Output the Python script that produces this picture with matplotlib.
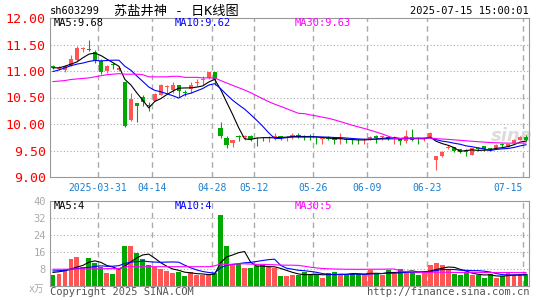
import numpy as np
import pandas as pd
import matplotlib
matplotlib.use("Agg")
import matplotlib.pyplot as plt

# trading calendar (Qingming, May Day and Dragon Boat holidays removed)
holidays = ["2025-04-04", "2025-05-01", "2025-05-02", "2025-05-05", "2025-06-02"]
dates = pd.bdate_range("2025-03-19", "2025-07-15", freq="C", holidays=holidays)

opens = [11.10, 11.04, 11.01, 11.10, 11.20, 11.41, 11.42, 11.36, 11.18, 11.00,
         11.12, 11.01, 10.79, 10.07, 10.39, 10.50, 10.36, 10.44, 10.55, 10.69,
         10.65, 10.74, 10.61, 10.66, 10.78, 10.83, 10.87, 10.99, 9.92, 9.74,
         9.64, 9.77, 9.76, 9.78, 9.74, 9.74, 9.74, 9.75, 9.76, 9.74,
         9.75, 9.79, 9.78, 9.77, 9.74, 9.72, 9.75, 9.73, 9.71, 9.71,
         9.70, 9.70, 9.69, 9.71, 9.78, 9.75, 9.76, 9.73, 9.71, 9.67,
         9.76, 9.74, 9.71, 9.74, 9.33, 9.39, 9.55, 9.56, 9.52, 9.49,
         9.42, 9.54, 9.58, 9.54, 9.55, 9.61, 9.57, 9.64, 9.70, 9.76]
highs = [11.12, 11.09, 11.12, 11.30, 11.47, 11.45, 11.59, 11.40, 11.23, 11.12,
         11.15, 11.09, 10.80, 10.58, 10.39, 10.54, 10.41, 10.59, 10.75, 10.74,
         10.80, 10.74, 10.64, 10.80, 10.84, 10.90, 10.99, 10.99, 10.03, 9.78,
         9.69, 9.80, 9.80, 9.80, 9.75, 9.76, 9.77, 9.83, 9.78, 9.78,
         9.83, 9.83, 9.79, 9.81, 9.75, 9.75, 9.78, 9.76, 9.83, 9.73,
         9.73, 9.71, 9.73, 9.78, 9.79, 9.78, 9.78, 9.78, 9.73, 9.89,
         9.90, 9.76, 9.75, 9.84, 9.40, 9.50, 9.60, 9.56, 9.53, 9.52,
         9.55, 9.56, 9.59, 9.55, 9.62, 9.65, 9.63, 9.71, 9.78, 9.79]
lows = [11.03, 11.01, 10.98, 11.09, 11.18, 11.36, 11.37, 11.15, 10.94, 10.97,
        11.04, 11.00, 9.94, 10.06, 10.03, 10.34, 10.24, 10.44, 10.54, 10.56,
        10.58, 10.51, 10.53, 10.58, 10.71, 10.74, 10.84, 10.74, 9.74, 9.55,
        9.57, 9.67, 9.70, 9.67, 9.58, 9.67, 9.66, 9.70, 9.70, 9.67,
        9.72, 9.73, 9.70, 9.70, 9.63, 9.63, 9.70, 9.63, 9.63, 9.65,
        9.63, 9.63, 9.63, 9.70, 9.65, 9.69, 9.69, 9.63, 9.60, 9.65,
        9.67, 9.63, 9.67, 9.73, 9.13, 9.38, 9.52, 9.47, 9.46, 9.39,
        9.41, 9.50, 9.50, 9.49, 9.54, 9.57, 9.56, 9.63, 9.69, 9.67]
closes = [11.05, 11.06, 11.10, 11.22, 11.43, 11.44, 11.40, 11.20, 10.99, 11.09,
          11.11, 11.06, 9.96, 10.47, 10.34, 10.41, 10.34, 10.57, 10.73, 10.72,
          10.74, 10.62, 10.59, 10.74, 10.79, 10.85, 10.99, 10.84, 9.78, 9.60,
          9.69, 9.75, 9.78, 9.72, 9.73, 9.73, 9.75, 9.77, 9.75, 9.76,
          9.79, 9.76, 9.76, 9.75, 9.73, 9.73, 9.72, 9.70, 9.73, 9.69,
          9.69, 9.69, 9.70, 9.76, 9.74, 9.76, 9.72, 9.74, 9.67, 9.78,
          9.70, 9.73, 9.72, 9.83, 9.39, 9.48, 9.57, 9.50, 9.48, 9.47,
          9.54, 9.52, 9.52, 9.52, 9.60, 9.60, 9.63, 9.70, 9.76, 9.70]
# volume, 10k lots
volumes = [4.9, 5.3, 7.7, 12.4, 13.3, 8.9, 12.9, 10.8, 8.9, 5.8,
           5.3, 7.8, 18.5, 18.5, 15.2, 12.4, 9.6, 8.9, 7.8, 6.9,
           5.8, 6.6, 4.4, 6.3, 5.0, 5.0, 5.0, 5.8, 33.3, 18.5,
           9.7, 10.4, 8.5, 8.2, 9.3, 9.7, 8.9, 8.2, 4.5, 4.5,
           5.0, 5.2, 6.3, 5.0, 5.3, 3.5, 5.8, 6.3, 5.6, 5.0,
           5.6, 5.3, 5.3, 7.4, 5.3, 5.0, 7.5, 5.6, 8.0, 6.9,
           6.6, 5.0, 6.0, 9.7, 10.5, 9.7, 7.8, 5.3, 5.0, 6.3,
           5.0, 5.0, 3.6, 5.6, 3.5, 4.4, 6.3, 5.0, 5.6, 5.6]

# moving-average values before enough history exists in this window
ma5_head = [11.06, 11.06, 11.09, 11.13]
ma10_head = [10.99, 11.02, 11.06, 11.10, 11.13, 11.15, 11.18, 11.20, 11.19]
ma30_head = [10.80, 10.81, 10.82, 10.84, 10.85, 10.86, 10.87, 10.89, 10.91, 10.93,
             10.94, 10.95, 10.94, 10.94, 10.94, 10.93, 10.89, 10.89, 10.89, 10.89,
             10.90, 10.90, 10.88, 10.88, 10.88, 10.87, 10.87, 10.87, 10.82]
vma5_head = [6.2, 6.5, 7.0, 7.8]
vma10_head = [6.9, 7.0, 7.2, 7.6, 8.0, 8.3, 8.6, 9.0, 9.3]
vma30_head = [7.7, 7.7, 7.7, 7.8, 7.8, 7.8, 7.9, 7.9, 7.9, 8.0,
              8.0, 8.0, 8.9, 8.9, 8.9, 8.9, 8.9, 8.9, 8.9, 8.9,
              8.9, 8.9, 8.9, 8.9, 8.9, 8.9, 8.9, 9.3, 10.2]

tick_dates = ["2025-03-31", "2025-04-14", "2025-04-28", "2025-05-12",
              "2025-05-26", "2025-06-09", "2025-06-23", "2025-07-15"]
price_ticks = [9.00, 9.50, 10.00, 10.50, 11.00, 11.50, 12.00]
vol_ticks = [8, 16, 24, 32, 40]

symbol = "sh603299"
title = "苏盐井神 - 日K线图"
stamp = "2025-07-15 15:00:01"
ma_labels = ["MA5:9.68", "MA10:9.62", "MA30:9.63"]
vma_labels = ["MA5:4", "MA10:4", "MA30:5"]

RED = "#ff5555"
GREEN = "#00a800"
MA_COLORS = ["#000000", "#0000ff", "#ff00ff"]
GRID = "#aaaaaa"
MONO = "DejaVu Sans Mono"
MIXED = ["DejaVu Sans Mono", "Noto Sans CJK SC"]


def moving_avg(values, head, n):
    s = pd.Series(values, dtype=float).rolling(n).mean()
    s.iloc[:len(head)] = head
    return s.to_numpy()


def style_axes(ax):
    for sp in ax.spines.values():
        sp.set_color("#999999")
        sp.set_linewidth(0.8)
    ax.tick_params(length=0)


W, H = 545, 300
fig = plt.figure(figsize=(W / 100, H / 100), dpi=100)
ax = fig.add_axes([50 / W, 1 - 177 / H, 479 / W, 159 / H])
axv = fig.add_axes([50 / W, 1 - 285.5 / H, 479 / W, 84.5 / H])

o, h, l, c = map(np.array, (opens, highs, lows, closes))
x = np.arange(len(c))
up = c >= o
colors = np.where(up, RED, GREEN)
tick_x = [dates.get_loc(pd.Timestamp(d)) - 0.5 for d in tick_dates]

# --- price panel ---
style_axes(ax)
for yv in price_ticks[1:-1]:
    ax.axhline(yv, color=GRID, lw=0.8, ls=(0, (1, 2)), zorder=0)
for tx in tick_x:
    ax.axvline(tx, color=GRID, lw=1.0, ls=(0, (4, 3)), zorder=0)

ax.vlines(x, l, h, colors=colors, lw=0.8, zorder=2)
body = np.maximum(np.abs(c - o), 0.015)
ax.bar(x, body, bottom=np.minimum(o, c), width=0.72, color=colors, lw=0, zorder=3)

for head, n, col in zip((ma5_head, ma10_head, ma30_head), (5, 10, 30), MA_COLORS):
    ax.plot(x, moving_avg(closes, head, n), color=col, lw=0.8, zorder=4)

ax.set_xlim(-0.5, len(c) - 0.5)
ax.set_ylim(9.0, 12.0)
ax.set_yticks(price_ticks)
ax.set_yticklabels([f"{v:.2f}" for v in price_ticks], family=MONO, fontsize=9.5, color="#ff0000")
ax.tick_params(axis="y", pad=3)
ax.set_xticks(tick_x)
date_labels = ax.set_xticklabels(
    [pd.Timestamp(d).strftime("%Y-%m-%d" if i == 0 else "%m-%d") for i, d in enumerate(tick_dates)],
    family=MONO, fontsize=7, color="#1a7fd0")
date_labels[-1].set_horizontalalignment("right")  # last label kept inside the frame
ax.tick_params(axis="x", pad=4)

ax.text(512, 164, "sina", transform=None, fontsize=13, style="italic", weight="bold",
        color="#dcdcdc", ha="center", va="center", zorder=1)

# --- volume panel ---
style_axes(axv)
for yv in vol_ticks[:-1]:
    axv.axhline(yv, color=GRID, lw=0.8, ls=(0, (1, 2)), zorder=0)
for tx in tick_x:
    axv.axvline(tx, color=GRID, lw=1.0, ls=(0, (4, 3)), zorder=0)
axv.bar(x, volumes, width=0.82, color=colors, lw=0, zorder=2)
for head, n, col in zip((vma5_head, vma10_head, vma30_head), (5, 10, 30), MA_COLORS):
    axv.plot(x, moving_avg(volumes, head, n), color=col, lw=0.8, zorder=3)
axv.set_xlim(-0.5, len(c) - 0.5)
axv.set_ylim(0, 40)
axv.set_xticks([])
axv.set_yticks(vol_ticks)
axv.set_yticklabels([str(v) for v in vol_ticks], family=MONO, fontsize=7.5, color="#aaaaaa")
axv.tick_params(axis="y", pad=3)

# --- text in pixel coordinates ---
def put(px, py, s, **kw):
    fig.text(px / W, 1 - py / H, s, va="center", **kw)

put(50, 11, symbol, family=MONO, fontsize=7.5)
put(176, 11.5, title, family=MIXED, fontsize=9.5, ha="center")
put(529, 11.5, stamp, family=MONO, fontsize=7.5, ha="right")
for px, s, col in zip((54, 175, 295), ma_labels, MA_COLORS):
    put(px, 23.5, s, family=MONO, fontsize=7.5, color=col)
for px, s, col in zip((54, 175, 295), vma_labels, MA_COLORS):
    put(px, 206, s, family=MONO, fontsize=7.5, color=col)
put(44, 289, "x万", family=MIXED, fontsize=7, color="#aaaaaa", ha="right")
put(50, 292, "Copyright 2025 SINA.COM", family=MONO, fontsize=7.5, color="#555555")
put(529, 292, "http://finance.sina.com.cn", family=MONO, fontsize=7.5, color="#555555", ha="right")

fig.savefig("out.png", dpi=100)
